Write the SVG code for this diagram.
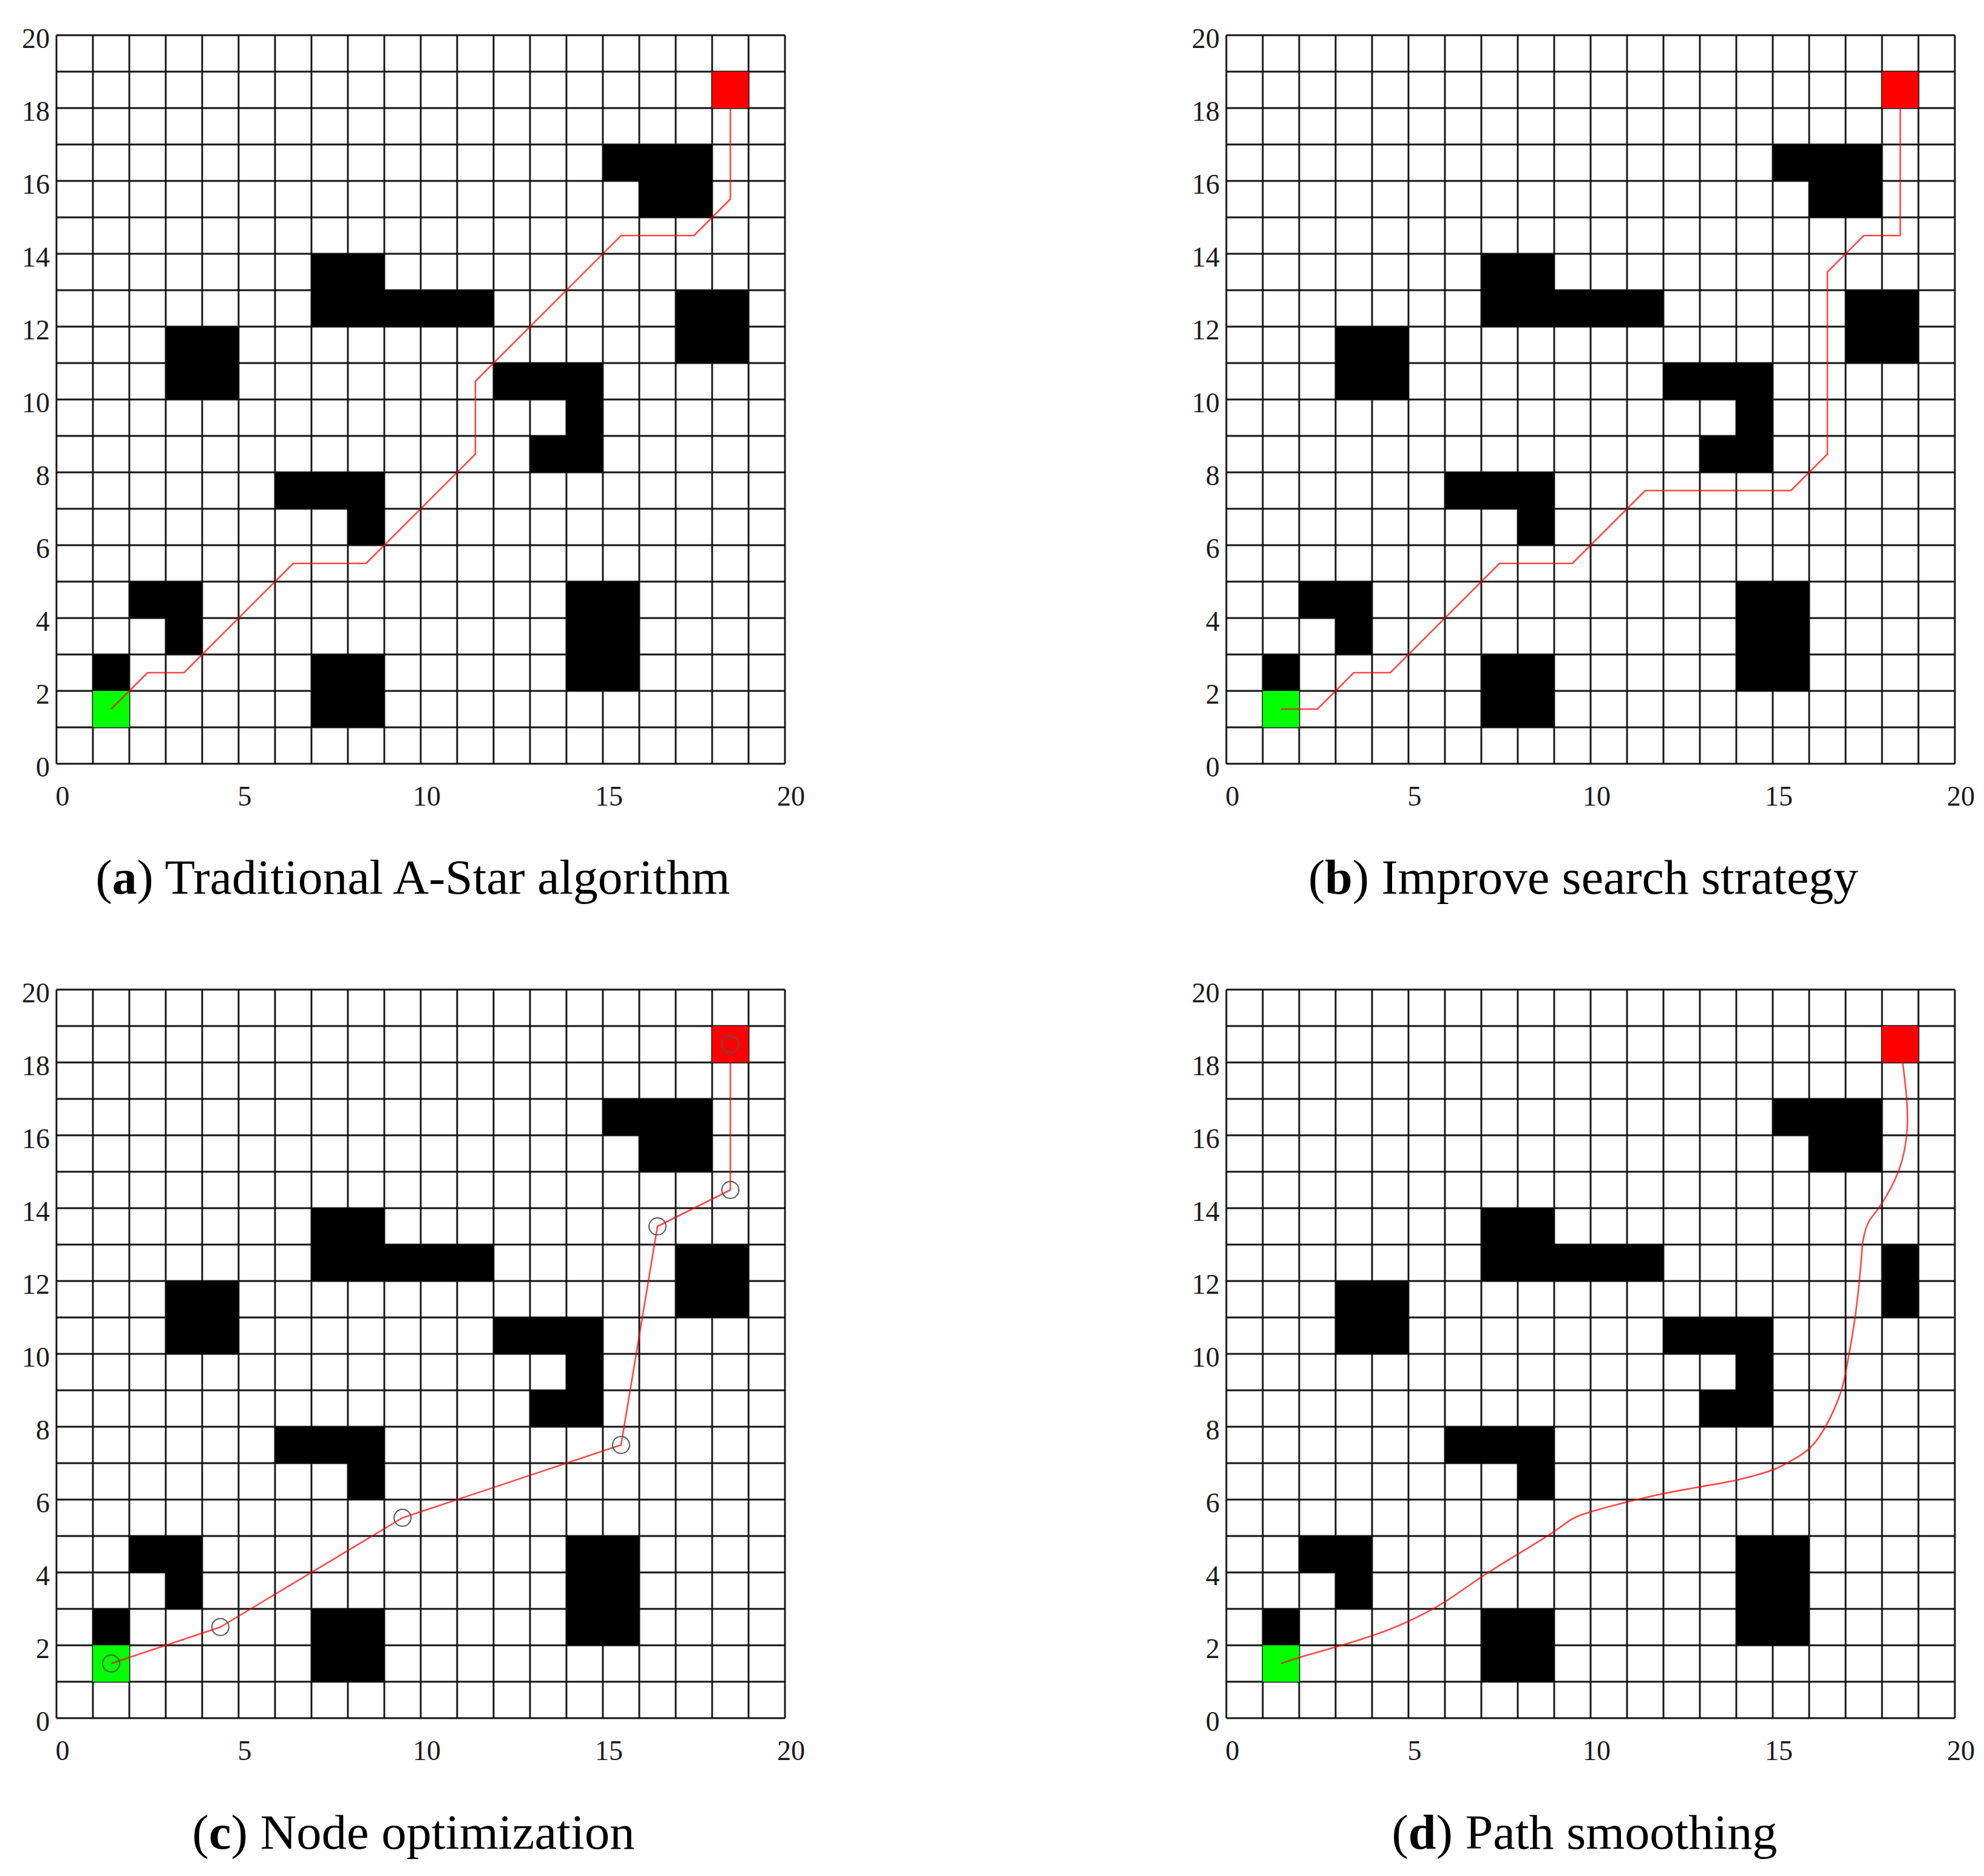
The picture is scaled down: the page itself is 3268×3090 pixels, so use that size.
<svg xmlns="http://www.w3.org/2000/svg" xmlns:xlink="http://www.w3.org/1999/xlink" width="3268" height="3090" viewBox="0 0 3268 3090">
<style>
.grid{fill:none;stroke:#141414;stroke-width:2.9}
.obs{fill:#000}
.start{fill:#00ff00}
.goal{fill:#ff0000}
.path{fill:none;stroke:#ff0000;stroke-opacity:0.72;stroke-width:2.6;stroke-linejoin:round}
.node{fill:none;stroke:#555;stroke-width:2}
.tick{font-family:"Liberation Serif","Times New Roman",serif;font-size:46px;fill:#1a1a1a}
.ty{text-anchor:end}
.tx{text-anchor:middle}
.cap{font-family:"Liberation Serif","Times New Roman",serif;font-size:80px;fill:#000;text-anchor:middle}
</style>
<defs>
<path id="gridlines" class="grid" d="M0 0V1200M60 0V1200M120 0V1200M180 0V1200M240 0V1200M300 0V1200M360 0V1200M420 0V1200M480 0V1200M540 0V1200M600 0V1200M660 0V1200M720 0V1200M780 0V1200M840 0V1200M900 0V1200M960 0V1200M1020 0V1200M1080 0V1200M1140 0V1200M1200 0V1200M0 0H1200M0 60H1200M0 120H1200M0 180H1200M0 240H1200M0 300H1200M0 360H1200M0 420H1200M0 480H1200M0 540H1200M0 600H1200M0 660H1200M0 720H1200M0 780H1200M0 840H1200M0 900H1200M0 960H1200M0 1020H1200M0 1080H1200M0 1140H1200M0 1200H1200"/>
<g id="obstacles">
<rect class="obs" x="60" y="1020" width="60" height="60"/>
<rect class="obs" x="120" y="900" width="120" height="60"/>
<rect class="obs" x="180" y="960" width="60" height="60"/>
<rect class="obs" x="420" y="1020" width="120" height="120"/>
<rect class="obs" x="840" y="900" width="120" height="180"/>
<rect class="obs" x="360" y="720" width="180" height="60"/>
<rect class="obs" x="480" y="780" width="60" height="60"/>
<rect class="obs" x="180" y="480" width="120" height="120"/>
<rect class="obs" x="420" y="360" width="120" height="120"/>
<rect class="obs" x="540" y="420" width="180" height="60"/>
<rect class="obs" x="720" y="540" width="180" height="60"/>
<rect class="obs" x="840" y="600" width="60" height="60"/>
<rect class="obs" x="780" y="660" width="120" height="60"/>
<rect class="obs" x="900" y="180" width="180" height="60"/>
<rect class="obs" x="960" y="240" width="120" height="60"/>
<rect class="start" x="60" y="1080" width="60" height="60"/>
<rect class="goal" x="1080" y="60" width="60" height="60"/>
</g>
</defs>

<g id="panel-a" transform="translate(93,58)">
<use xlink:href="#gridlines" href="#gridlines"/>
<use xlink:href="#obstacles" href="#obstacles"/>
<rect class="obs" x="1020" y="420" width="120" height="120"/>
<polyline class="path" points="90,1110 150,1050 210,1050 390,870 510,870 690,690 690,570 930,330 1050,330 1110,270 1110,90"/>
<g class="tick">
<text class="ty" x="-11" y="21">20</text><text class="ty" x="-11" y="141">18</text><text class="ty" x="-11" y="261">16</text><text class="ty" x="-11" y="381">14</text><text class="ty" x="-11" y="501">12</text><text class="ty" x="-11" y="621">10</text><text class="ty" x="-11" y="741">8</text><text class="ty" x="-11" y="861">6</text><text class="ty" x="-11" y="981">4</text><text class="ty" x="-11" y="1101">2</text><text class="ty" x="-11" y="1221">0</text>
<text class="tx" x="10" y="1269">0</text><text class="tx" x="310" y="1269">5</text><text class="tx" x="610" y="1269">10</text><text class="tx" x="910" y="1269">15</text><text class="tx" x="1210" y="1269">20</text>
</g>
</g>

<g id="panel-b" transform="translate(2020,58)">
<use xlink:href="#gridlines" href="#gridlines"/>
<use xlink:href="#obstacles" href="#obstacles"/>
<rect class="obs" x="1020" y="420" width="120" height="120"/>
<polyline class="path" points="90,1110 150,1110 210,1050 270,1050 450,870 570,870 690,750 930,750 990,690 990,390 1050,330 1110,330 1110,90"/>
<g class="tick">
<text class="ty" x="-11" y="21">20</text><text class="ty" x="-11" y="141">18</text><text class="ty" x="-11" y="261">16</text><text class="ty" x="-11" y="381">14</text><text class="ty" x="-11" y="501">12</text><text class="ty" x="-11" y="621">10</text><text class="ty" x="-11" y="741">8</text><text class="ty" x="-11" y="861">6</text><text class="ty" x="-11" y="981">4</text><text class="ty" x="-11" y="1101">2</text><text class="ty" x="-11" y="1221">0</text>
<text class="tx" x="10" y="1269">0</text><text class="tx" x="310" y="1269">5</text><text class="tx" x="610" y="1269">10</text><text class="tx" x="910" y="1269">15</text><text class="tx" x="1210" y="1269">20</text>
</g>
</g>

<g id="panel-c" transform="translate(93,1630)">
<use xlink:href="#gridlines" href="#gridlines"/>
<use xlink:href="#obstacles" href="#obstacles"/>
<rect class="obs" x="1020" y="420" width="120" height="120"/>
<polyline class="path" points="90,1110 270,1050 570,870 930,750 990,390 1110,330 1110,90"/>
<g id="nodes-c">
<circle class="node" cx="90" cy="1110" r="14"/>
<circle class="node" cx="270" cy="1050" r="14"/>
<circle class="node" cx="570" cy="870" r="14"/>
<circle class="node" cx="930" cy="750" r="14"/>
<circle class="node" cx="990" cy="390" r="14"/>
<circle class="node" cx="1110" cy="330" r="14"/>
<circle class="node" cx="1110" cy="90" r="14"/>
</g>
<g class="tick">
<text class="ty" x="-11" y="21">20</text><text class="ty" x="-11" y="141">18</text><text class="ty" x="-11" y="261">16</text><text class="ty" x="-11" y="381">14</text><text class="ty" x="-11" y="501">12</text><text class="ty" x="-11" y="621">10</text><text class="ty" x="-11" y="741">8</text><text class="ty" x="-11" y="861">6</text><text class="ty" x="-11" y="981">4</text><text class="ty" x="-11" y="1101">2</text><text class="ty" x="-11" y="1221">0</text>
<text class="tx" x="10" y="1269">0</text><text class="tx" x="310" y="1269">5</text><text class="tx" x="610" y="1269">10</text><text class="tx" x="910" y="1269">15</text><text class="tx" x="1210" y="1269">20</text>
</g>
</g>

<g id="panel-d" transform="translate(2020,1630)">
<use xlink:href="#gridlines" href="#gridlines"/>
<use xlink:href="#obstacles" href="#obstacles"/>
<rect class="obs" x="1080" y="420" width="60" height="120"/>
<path class="path" d="M90,1110 L105,1104.9 Q120,1099.8 150,1091.4 Q180,1083 210,1074 Q240,1065 270,1053.3 Q300,1041.6 330,1025.7 Q360,1009.8 390,988.2 Q420,966.6 450,948.3 Q480,930 510,911.7 Q540,893.4 555,881.7 Q570,870 585,864.9 Q600,859.8 630,851.7 Q660,843.6 690,836.7 Q720,829.8 750,824.4 Q780,819 810,813.9 Q840,808.8 870,800.4 Q900,792 912,786 Q924,780 943.5,768.3 Q963,756.6 975.9,737.7 Q988.8,718.8 1001.4,690.9 Q1014,663 1019.4,634.5 Q1024.8,606 1030.5,573 Q1036.2,540 1040.1,504.6 Q1044,469.2 1047,429.6 Q1050,390 1064.1,373.5 Q1078.2,357 1094.1,327.6 Q1110,298.2 1116,269.1 Q1122,240 1122,213.9 Q1122,187.8 1118.1,153.9 Q1114.2,120 1112.1,105 L1110,90"/>
<g class="tick">
<text class="ty" x="-11" y="21">20</text><text class="ty" x="-11" y="141">18</text><text class="ty" x="-11" y="261">16</text><text class="ty" x="-11" y="381">14</text><text class="ty" x="-11" y="501">12</text><text class="ty" x="-11" y="621">10</text><text class="ty" x="-11" y="741">8</text><text class="ty" x="-11" y="861">6</text><text class="ty" x="-11" y="981">4</text><text class="ty" x="-11" y="1101">2</text><text class="ty" x="-11" y="1221">0</text>
<text class="tx" x="10" y="1269">0</text><text class="tx" x="310" y="1269">5</text><text class="tx" x="610" y="1269">10</text><text class="tx" x="910" y="1269">15</text><text class="tx" x="1210" y="1269">20</text>
</g>
</g>

<g id="captions">
<text class="cap" x="680" y="1472" textLength="1045" lengthAdjust="spacingAndGlyphs">(<tspan font-weight="bold">a</tspan>) Traditional A-Star algorithm</text>
<text class="cap" x="2608" y="1472" textLength="906" lengthAdjust="spacingAndGlyphs">(<tspan font-weight="bold">b</tspan>) Improve search strategy</text>
<text class="cap" x="681" y="3045" textLength="729" lengthAdjust="spacingAndGlyphs">(<tspan font-weight="bold">c</tspan>) Node optimization</text>
<text class="cap" x="2610" y="3045" textLength="635" lengthAdjust="spacingAndGlyphs">(<tspan font-weight="bold">d</tspan>) Path smoothing</text>
</g>
</svg>
